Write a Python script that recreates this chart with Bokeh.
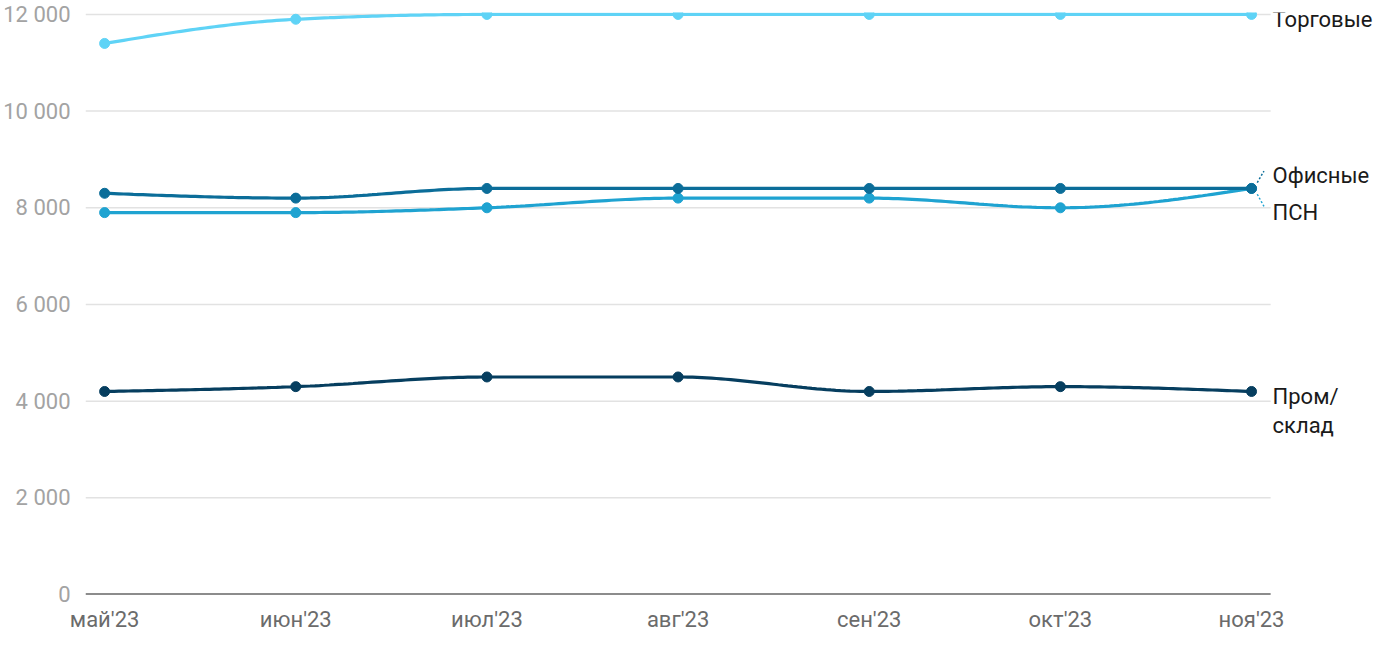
import numpy as np
from bokeh.plotting import figure
from bokeh.models import FixedTicker, Label, Arrow, Range1d
from bokeh.embed import file_html
from bokeh.resources import INLINE

months = ["май'23", "июн'23", "июл'23", "авг'23", "сен'23", "окт'23", "ноя'23"]
trade = [11400, 11900, 12000, 12000, 12000, 12000, 12000]
office = [8300, 8200, 8400, 8400, 8400, 8400, 8400]
psn = [7900, 7900, 8000, 8200, 8200, 8000, 8400]
prom = [4200, 4300, 4500, 4500, 4200, 4300, 4200]
y_ticks = [0, 2000, 4000, 6000, 8000, 10000, 12000]

C_TRADE = "#5fd3f6"
C_OFFICE = "#0b6d99"
C_PSN = "#1fa3d1"
C_PROM = "#063e5f"
FONT = "Roboto"


def monotone(xs, ys, n=40):
    xs = np.asarray(xs, float)
    ys = np.asarray(ys, float)
    m = len(xs)
    h = np.diff(xs)
    s = np.diff(ys) / h
    t = np.zeros(m)
    for i in range(1, m - 1):
        s0, s1 = s[i - 1], s[i]
        p = (s0 * h[i] + s1 * h[i - 1]) / (h[i - 1] + h[i])
        t[i] = (np.sign(s0) + np.sign(s1)) * min(abs(s0), abs(s1), 0.5 * abs(p))
    t[0] = (3 * s[0] - t[1]) / 2
    t[-1] = (3 * s[-1] - t[-2]) / 2
    ox, oy = [], []
    for i in range(m - 1):
        u = np.linspace(0, 1, n, endpoint=(i == m - 2))
        h00 = 2 * u**3 - 3 * u**2 + 1
        h10 = u**3 - 2 * u**2 + u
        h01 = -2 * u**3 + 3 * u**2
        h11 = u**3 - u**2
        ox.extend(xs[i] + u * h[i])
        oy.extend(h00 * ys[i] + h10 * h[i] * t[i] + h01 * ys[i + 1] + h11 * h[i] * t[i + 1])
    return ox, oy


x = list(range(len(months)))
X0, X1 = -0.1, 6.1  # plotted area (grid extent)

p = figure(width=1390, height=638, output_backend="svg", toolbar_location=None,
           x_range=Range1d(X0, 6.727), y_range=Range1d(0, 12040),
           min_border_left=84, min_border_right=0, min_border_top=12, min_border_bottom=44)
p.outline_line_color = None
p.background_fill_color = "white"
p.border_fill_color = "white"

p.xgrid.grid_line_color = None
p.ygrid.grid_line_color = None
gy = y_ticks[1:]
p.segment(x0=[X0] * len(gy), y0=gy, x1=[X1] * len(gy), y1=gy,
          line_color="#e2e2e2", line_width=1.5)
p.segment(x0=[X0], y0=[0], x1=[X1], y1=[0], line_color="#1a1a1a", line_width=2)

p.yaxis.ticker = FixedTicker(ticks=y_ticks)
p.yaxis.major_label_overrides = {v: f"{v:,}".replace(",", " ") for v in y_ticks}
p.yaxis.axis_line_color = None
p.yaxis.major_tick_line_color = None
p.yaxis.minor_tick_line_color = None
p.yaxis.major_label_text_color = "#a3a3a3"
p.yaxis.major_label_text_font = FONT
p.yaxis.major_label_text_font_size = "22px"
p.yaxis.major_label_standoff = 9

p.xaxis.ticker = FixedTicker(ticks=x)
p.xaxis.major_label_overrides = {i: m for i, m in enumerate(months)}
p.xaxis.axis_line_color = None
p.xaxis.major_tick_line_color = None
p.xaxis.minor_tick_line_color = None
p.xaxis.major_label_text_color = "#6b6b6b"
p.xaxis.major_label_text_font = FONT
p.xaxis.major_label_text_font_size = "22px"
p.xaxis.major_label_standoff = 6

for vals, col in [(trade, C_TRADE), (psn, C_PSN), (office, C_OFFICE), (prom, C_PROM)]:
    cx, cy = monotone(x, vals)
    p.line(cx, cy, line_color=col, line_width=3.2)
    p.scatter(x, vals, size=10, fill_color=col, line_color=col)

# leader lines for overlapping end labels
p.add_layout(Arrow(end=None, x_start=6.03, y_start=8520, x_end=6.065, y_end=8760,
                   line_color=C_OFFICE, line_width=1.5, line_dash="2 2"))
p.add_layout(Arrow(end=None, x_start=6.03, y_start=8280, x_end=6.065, y_end=8030,
                   line_color=C_PSN, line_width=1.5, line_dash="2 2"))

lab = dict(text_font=FONT, text_font_size="22px", text_color="#1a1a1a",
           text_baseline="middle", x_offset=21)
p.add_layout(Label(x=x[-1], y=trade[-1], text="Торговые", y_offset=-5, **lab))
p.add_layout(Label(x=x[-1], y=office[-1], text="Офисные", y_offset=13, **lab))
p.add_layout(Label(x=x[-1], y=psn[-1], text="ПСН", y_offset=-24, **lab))
p.add_layout(Label(x=x[-1], y=prom[-1], text="Пром/", y_offset=-5, **lab))
p.add_layout(Label(x=x[-1], y=prom[-1], text="склад", y_offset=-34, **lab))

open("out.html", "w").write(file_html(p, INLINE))
